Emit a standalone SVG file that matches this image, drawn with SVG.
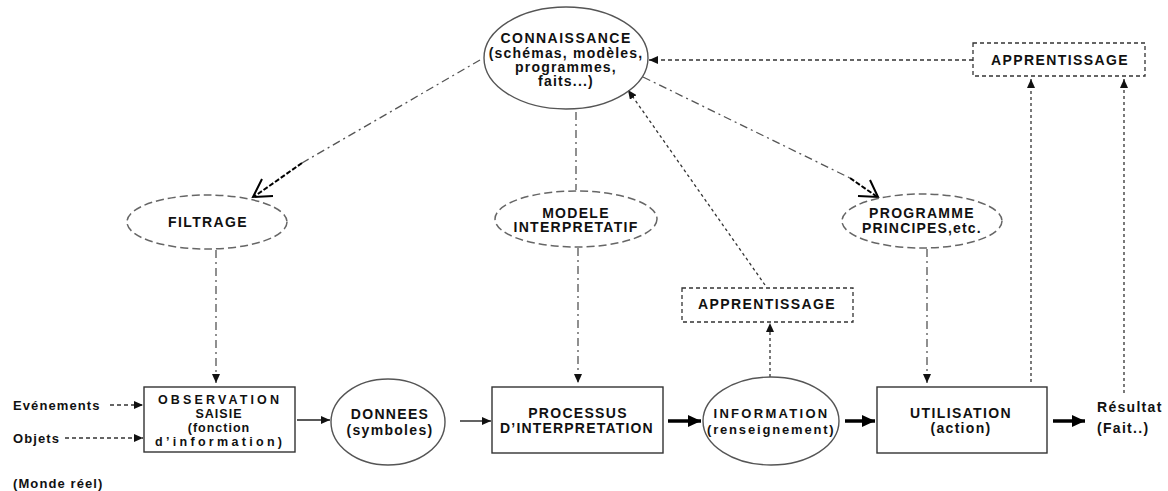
<svg xmlns="http://www.w3.org/2000/svg" width="1168" height="491" viewBox="0 0 1168 491">
<style>
text{font-family:"Liberation Sans",Arial,sans-serif;font-weight:bold;fill:#111;text-anchor:middle;font-size:14px;letter-spacing:1.3px}
.big{font-size:14px;letter-spacing:1.2px}
.sm{font-size:13px;letter-spacing:1.1px}
.obs{font-size:12.5px;letter-spacing:1px}
.inf{font-size:13px;letter-spacing:1.3px}
.lft{text-anchor:start}
.solid{fill:none;stroke:#333;stroke-width:1.4}
.circ{fill:none;stroke:#555;stroke-width:1.4}
.dell{fill:none;stroke:#666;stroke-width:1.5;stroke-dasharray:8 4}
.dbox{fill:none;stroke:#333;stroke-width:1.3;stroke-dasharray:4 3}
.dashdot{fill:none;stroke:#555;stroke-width:1.3;stroke-dasharray:8 4 2 4}
.dotted{fill:none;stroke:#333;stroke-width:1.3;stroke-dasharray:3 3}
.dashed{fill:none;stroke:#333;stroke-width:1.3;stroke-dasharray:4 3}
.bdash{fill:none;stroke:#000;stroke-width:2;stroke-dasharray:5 2}
.open{fill:none;stroke:#000;stroke-width:2}
.thin{fill:none;stroke:#222;stroke-width:1.4}
.thick{fill:none;stroke:#000;stroke-width:3.5}
</style>
<defs>
<marker id="ah" markerUnits="userSpaceOnUse" markerWidth="9" markerHeight="8" refX="9" refY="4" orient="auto"><path d="M0,0 L9,4 L0,8 z" fill="#111"/></marker>
<marker id="ahT" markerUnits="userSpaceOnUse" markerWidth="13" markerHeight="12" refX="13" refY="6" orient="auto"><path d="M0,0 L13,6 L0,12 z" fill="#000"/></marker>
</defs>

<g id="connectors">
<path class="dashdot" d="M480,60 L302,163"/>
<path class="bdash" d="M302,163 L255,196"/>
<path class="open" d="M262,179 L253,197 L273,196"/>
<path class="dashdot" d="M643,77 L850,178"/>
<path class="bdash" d="M850,178 L876,196"/>
<path class="open" d="M870,180 L878,197 L858,196"/>
<path class="dashdot" d="M576,112 L576,190"/>
<path class="dashed" d="M973,60 L649,60" marker-end="url(#ah)"/>
<path class="dotted" d="M765,285 L628,90" marker-end="url(#ah)"/>
<path class="dashdot" d="M216,250 L216,383" marker-end="url(#ah)"/>
<path class="dashdot" d="M578,248 L578,383" marker-end="url(#ah)"/>
<path class="dashdot" d="M927,249 L927,383" marker-end="url(#ah)"/>
<path class="dotted" d="M770,377 L770,323" marker-end="url(#ah)"/>
<path class="dotted" d="M1031,382 L1031,79" marker-end="url(#ah)"/>
<path class="dotted" d="M1124,393 L1124,79" marker-end="url(#ah)"/>
<path class="dashed" d="M110,405 L143,405" marker-end="url(#ah)"/>
<path class="dashed" d="M65,438 L143,438" marker-end="url(#ah)"/>
<path class="thin" d="M297,420 L330,420" marker-end="url(#ah)"/>
<path class="thin" d="M460,421 L491,421" marker-end="url(#ah)"/>
<path class="thick" d="M668,421 L701,421" marker-end="url(#ahT)"/>
<path class="thick" d="M845,421 L875,421" marker-end="url(#ahT)"/>
<path class="thick" d="M1053,421 L1085,421" marker-end="url(#ahT)"/>
</g>

<g id="connaissance">
<ellipse class="circ" cx="566" cy="58" rx="82" ry="51"/>
<text class="big" x="566" y="43" textLength="131" lengthAdjust="spacing">CONNAISSANCE</text>
<text class="big" x="566" y="58">(schémas, modèles,</text>
<text class="big" x="566" y="72">programmes,</text>
<text class="big" x="566" y="86">faits...)</text>
</g>

<g id="apprentissage-top">
<rect class="dbox" x="973" y="43" width="172" height="33"/>
<text x="1060" y="65" textLength="138" lengthAdjust="spacing">APPRENTISSAGE</text>
</g>

<g id="filtrage">
<ellipse class="dell" cx="207" cy="222" rx="80" ry="27"/>
<text x="208" y="227" textLength="80" lengthAdjust="spacing">FILTRAGE</text>
</g>

<g id="modele">
<ellipse class="dell" cx="576" cy="219" rx="81" ry="28"/>
<text x="576" y="218">MODELE</text>
<text x="576" y="232" textLength="125" lengthAdjust="spacing">INTERPRETATIF</text>
</g>

<g id="programme">
<ellipse class="dell" cx="922" cy="221" rx="80" ry="27"/>
<text x="922" y="218">PROGRAMME</text>
<text x="922" y="233" textLength="120" lengthAdjust="spacing">PRINCIPES,etc.</text>
</g>

<g id="apprentissage-mid">
<rect class="dbox" x="682" y="288" width="171" height="34"/>
<text x="767" y="309" textLength="138" lengthAdjust="spacing">APPRENTISSAGE</text>
</g>

<g id="observation">
<rect class="solid" x="144" y="387" width="151" height="65"/>
<text class="obs" x="219" y="404" textLength="122" lengthAdjust="spacing">OBSERVATION</text>
<text class="obs" x="219" y="418">SAISIE</text>
<text class="obs" x="219" y="432">(fonction</text>
<text class="obs" x="219" y="446" textLength="128" lengthAdjust="spacing">d’information)</text>
</g>

<g id="donnees">
<ellipse class="circ" cx="388" cy="422" rx="57" ry="43"/>
<text x="390" y="419">DONNEES</text>
<text x="390" y="435">(symboles)</text>
</g>

<g id="processus">
<rect class="solid" x="492" y="387" width="171" height="66"/>
<text x="578" y="418">PROCESSUS</text>
<text x="577" y="433" textLength="154" lengthAdjust="spacing">D’INTERPRETATION</text>
</g>

<g id="information">
<ellipse class="circ" cx="771" cy="421" rx="68" ry="44"/>
<text class="inf" x="771" y="418" textLength="115" lengthAdjust="spacing">INFORMATION</text>
<text class="inf" x="771" y="434" textLength="128" lengthAdjust="spacing">(renseignement)</text>
</g>

<g id="utilisation">
<rect class="solid" x="877" y="387" width="170" height="66"/>
<text x="961" y="418" textLength="102" lengthAdjust="spacing">UTILISATION</text>
<text x="961" y="433">(action)</text>
</g>

<g id="resultat">
<text class="lft" x="1097" y="412">Résultat</text>
<text class="lft" x="1097" y="433">(Fait..)</text>
</g>

<g id="labels">
<text class="lft sm" x="13" y="410">Evénements</text>
<text class="lft sm" x="13" y="443">Objets</text>
<text class="lft sm" x="13" y="488">(Monde réel)</text>
</g>
</svg>
